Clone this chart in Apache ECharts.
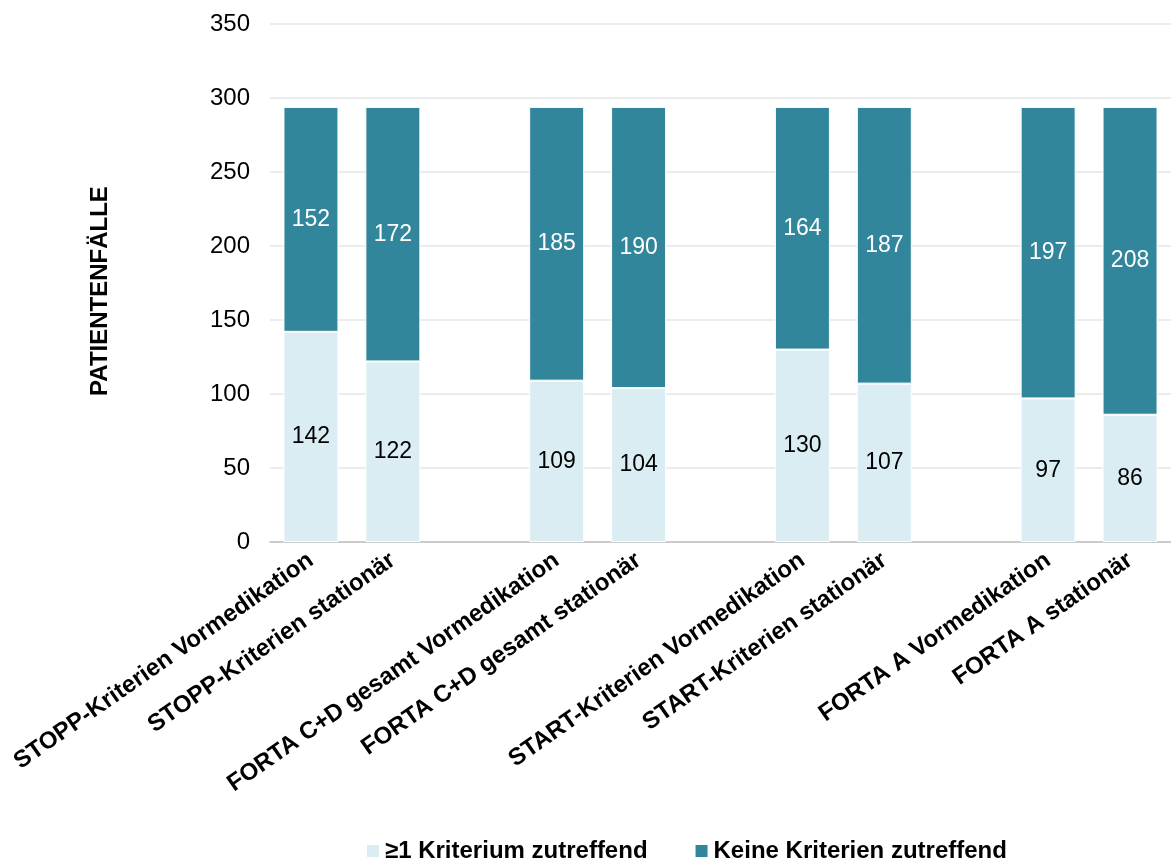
<!DOCTYPE html>
<html>
<head>
<meta charset="utf-8">
<script src="https://cdn.jsdelivr.net/npm/echarts@6/dist/echarts.min.js"></script>
<style>
  html, body { margin: 0; padding: 0; background: #fff; }
  #chart { width: 1171px; height: 860px; }
</style>
</head>
<body>
<div id="chart"></div>
<script>
// empty strings are spacer slots between the groups
const categories = [
  'STOPP-Kriterien Vormedikation', 'STOPP-Kriterien stationär', '',
  'FORTA C+D gesamt Vormedikation', 'FORTA C+D gesamt stationär', '',
  'START-Kriterien Vormedikation', 'START-Kriterien stationär', '',
  'FORTA A Vormedikation', 'FORTA A stationär'
]
const mindestensEins = [142, 122, '-', 109, 104, '-', 130, 107, '-', 97, 86]
const keine = [152, 172, '-', 185, 190, '-', 164, 187, '-', 197, 208]
const seriesNames = ['≥1 Kriterium zutreffend', 'Keine Kriterien zutreffend']
const yTicks = { min: 0, max: 350, interval: 50 }

const chart = echarts.init(document.getElementById('chart'))

const font = 'Liberation Sans, Arial, sans-serif'

chart.setOption({
  animation: false,
  textStyle: { fontFamily: font },
  grid: { left: 270, top: 24, width: 906, bottom: 318 },
  legend: {
    data: seriesNames,
    top: 834,
    left: 360,
    itemWidth: 14,
    itemHeight: 14,
    itemGap: 46,
    icon: 'rect',
    textStyle: { fontSize: 24, fontWeight: 'bold', color: '#000', fontFamily: font }
  },
  xAxis: {
    type: 'category',
    data: categories,
    axisLine: { lineStyle: { color: '#c0c0c0', width: 1.5 } },
    axisTick: { show: false },
    axisLabel: {
      interval: 0,
      rotate: 35,
      margin: 16,
      fontSize: 24,
      fontWeight: 'bold',
      color: '#000'
    }
  },
  yAxis: {
    type: 'value',
    min: yTicks.min,
    max: yTicks.max,
    interval: yTicks.interval,
    name: 'PATIENTENFÄLLE',
    nameLocation: 'middle',
    nameGap: 158,
    nameTextStyle: { fontSize: 24, fontWeight: 'bold', color: '#000', padding: [0, 16, 0, 0] },
    axisLine: { show: false },
    axisTick: { show: false },
    axisLabel: { fontSize: 24, color: '#000', margin: 20 },
    splitLine: { lineStyle: { color: '#e6e6e6', width: 1.5 } }
  },
  series: [
    {
      name: seriesNames[0],
      type: 'bar',
      stack: 'total',
      barWidth: 55,
      data: mindestensEins,
      itemStyle: { color: '#daedf3', borderColor: '#fff', borderWidth: 1 },
      label: { show: true, position: 'inside', fontSize: 23, color: '#000' }
    },
    {
      name: seriesNames[1],
      type: 'bar',
      stack: 'total',
      barWidth: 55,
      data: keine,
      itemStyle: { color: '#32869b', borderColor: '#fff', borderWidth: 1 },
      label: { show: true, position: 'inside', fontSize: 23, color: '#fff' }
    }
  ]
})
</script>
</body>
</html>
